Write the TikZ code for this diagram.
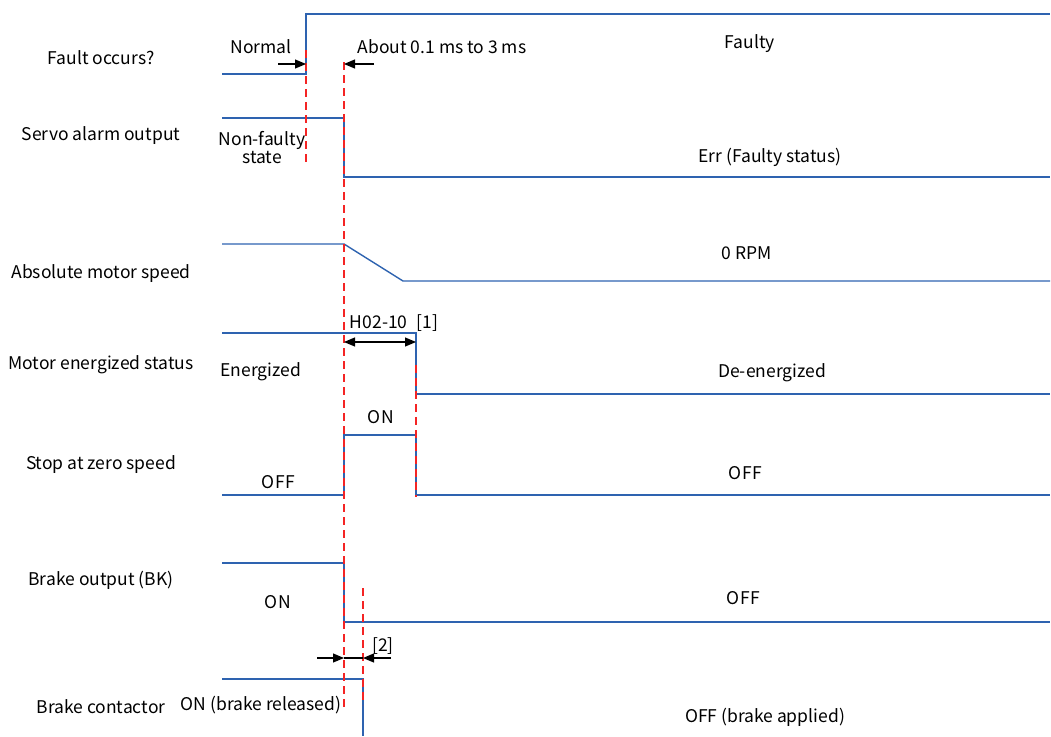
\documentclass[tikz,border=0pt]{standalone}
\usepackage{fontspec}
\setmainfont{Noto Sans CJK SC}
\usepackage{tikz}
\usetikzlibrary{arrows.meta, positioning, calc}
\definecolor{SigBlue}{RGB}{46,99,176}
\definecolor{MarkRed}{RGB}{244,36,36}

\tikzset{
	sig/.style={SigBlue, line width=1.4pt, line join=miter},
	tline/.style={MarkRed, line width=1.3pt, dash pattern=on 8pt off 5pt},
	dimarr/.style={black, line width=1.1pt, -{Triangle[length=11pt,width=9pt]}},
	lbl/.style={inner sep=0pt, align=center},
}

\begin{document}
\begin{tikzpicture}[x=1pt, y=-1pt, font=\fontsize{17.5}{21}\selectfont]
	\useasboundingbox (0,0) rectangle (1051,736);
	% signal names
	\foreach \nm/\y/\txt in {flt/58/Fault occurs?, alm/136/Servo alarm output,
		spd/274/Absolute motor speed, enr/365/Motor energized status,
		zsp/465/Stop at zero speed, bko/580/Brake output (BK),
		bkc/707/Brake contactor}
		\node[lbl] (\nm) at (101,\y) {\txt};
	% waveforms
	\draw[sig] (222,74) -- (306,74) -- (306,14) -- (1050,14);
	\draw[sig] (222,118) -- (344,118) -- (344,177) -- (1050,177);
	\draw[sig] (222,244) -- (344,244) -- (403,281) -- (1050,281);
	\draw[sig] (222,333) -- (416,333) -- (416,394) -- (1050,394);
	\draw[sig] (222,495) -- (344,495) -- (344,435) -- (416,435) -- (416,495) -- (1050,495);
	\draw[sig] (222,563) -- (344,563) -- (344,622) -- (1050,622);
	\draw[sig] (222,679) -- (363,679) -- (363,736);
	% time marks
	\draw[tline] (306,50) -- (306,165);
	\draw[tline] (344,62) -- (344,710);
	\draw[tline] (416,365) -- (416,497);
	\draw[tline] (363,588) -- (363,705);
	% state texts
	\node[lbl] (nrm) at (261,47) {Normal};
	\node[lbl] (dly) at (442,47) {About 0.1 ms to 3 ms};
	\node[lbl] (fty) at (750,44) {Faulty};
	\node[lbl] (nft) at (262,148) {Non-faulty\\[-3pt]state};
	\node[lbl] (err) at (770,157) {Err (Faulty status)};
	\node[lbl] (rpm) at (747,253) {0 RPM};
	\node[lbl] (h02) at (394,323) {H02-10\hspace{9pt}[1]};
	\node[lbl] (eng) at (261,372) {Energized};
	\node[lbl] (den) at (772,373) {De-energized};
	\node[lbl] (zon) at (381,417) {O\kern1.5pt N};
	\node[lbl] (zof1) at (278,482) {O\kern1.5pt FF};
	\node[lbl] (zof2) at (745,473) {O\kern1.5pt FF};
	\node[lbl] (bon) at (278,602) {O\kern1.5pt N};
	\node[lbl] (bof) at (743,598) {O\kern1.5pt FF};
	\node[lbl] (con) at (261,705) {ON (brake released)};
	\node[lbl] (cof) at (765,717) {OFF (brake applied)};
	\node[lbl] (nt2) at (383,646) {[2]};
	% dimension arrows
	\coordinate (a0) at (278,64);
	\coordinate (a1) at (306,64);
	\coordinate (a2) at (374,64);
	\coordinate (a3) at (344,64);
	\draw[dimarr] (a0) -- (a1);
	\draw[dimarr] (a2) -- (a3);
	\coordinate (b0) at (344,342);
	\coordinate (b1) at (416,342);
	\draw[dimarr, {Triangle[length=11pt,width=9pt]}-{Triangle[length=11pt,width=9pt]}] (b0) -- (b1);
	\coordinate (c0) at (317,658);
	\coordinate (c1) at (344,658);
	\coordinate (c2) at (391,658);
	\coordinate (c3) at (363,658);
	\draw[black, line width=1.1pt] (c1) -- (c3);
	\draw[dimarr] (c0) -- (c1);
	\draw[dimarr] (c2) -- (c3);
\end{tikzpicture}
\end{document}
